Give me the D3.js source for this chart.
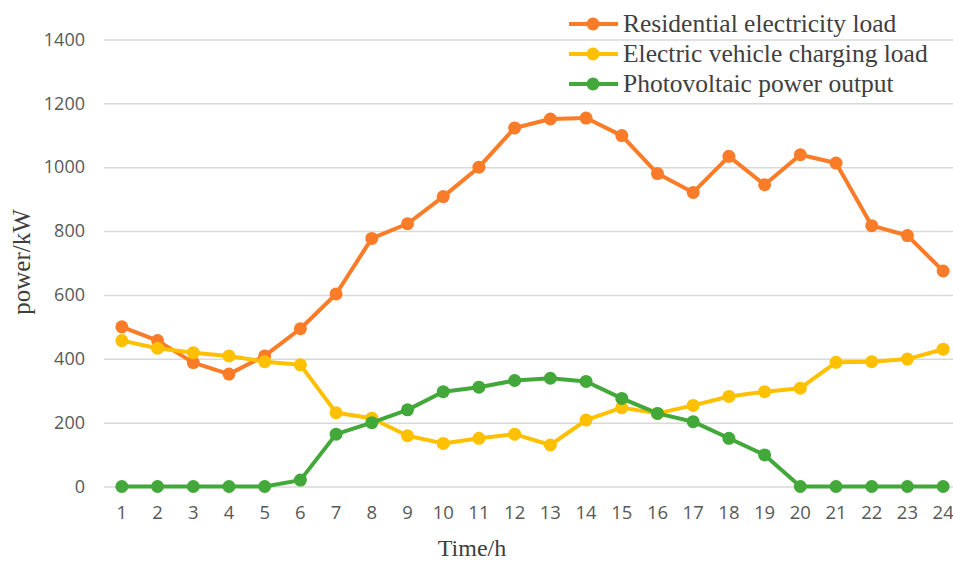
<!DOCTYPE html>
<html>
<head>
<meta charset="utf-8">
<script src="https://cdn.jsdelivr.net/npm/d3@7"></script>
<style>
  body { margin: 0; background: #fff; }
  svg { display: block; }
</style>
</head>
<body>
<div id="chart"></div>
<script>
// hours on the x axis
const hours = d3.range(1, 25);
const y_ticks = [0, 200, 400, 600, 800, 1000, 1200, 1400];

const series_names = ['Residential electricity load', 'Electric vehicle charging load', 'Photovoltaic power output'];
const series_colors = ['#fb7c28', '#ffc000', '#43a83a'];

const residential = [500, 457, 388, 352, 409, 494, 603, 777, 823, 908, 1000, 1123, 1151, 1154, 1099, 980, 921, 1034, 945, 1039, 1013, 817, 786, 675];
const ev_charging = [457, 433, 419, 409, 391, 381, 231, 214, 159, 135, 151, 164, 130, 208, 247, 229, 254, 282, 297, 308, 389, 391, 399, 430];
const pv_output = [0, 0, 0, 0, 0, 20, 164, 200, 240, 297, 311, 332, 339, 329, 276, 229, 203, 151, 99, 0, 0, 0, 0, 0];

const series_values = [residential, ev_charging, pv_output];

const width = 953, height = 561;
const margin = {top: 40, right: -8, bottom: 75, left: 104};
const line_width = 4;
const point_size = 6.5;
const serif = 'Liberation Serif, Times New Roman, serif';
const tick_font = 'Open Sans, sans-serif';

const svg = d3.select('#chart').append('svg')
  .attr('width', width)
  .attr('height', height);

const x = d3.scaleBand()
  .domain(hours)
  .range([margin.left, width - margin.right]);

const y = d3.scaleLinear()
  .domain([0, 1400])
  .range([height - margin.bottom + 0.5, margin.top - 0.5]);

// gridlines + y labels
const y_axis = svg.append('g')
  .attr('transform', `translate(${margin.left},0)`)
  .call(d3.axisLeft(y)
    .tickValues(y_ticks)
    .tickFormat(d3.format('d'))
    .tickSize(-(width - margin.right - margin.left))
    .tickPadding(19));

y_axis.select('.domain').remove();
y_axis.selectAll('.tick line')
  .attr('stroke', '#d9d9d9')
  .attr('stroke-width', 1.5);
y_axis.selectAll('.tick text')
  .attr('fill', '#595959')
  .attr('font-family', tick_font)
  .attr('font-size', 18);

// x labels
const x_axis = svg.append('g')
  .attr('transform', `translate(0,${y(0)})`)
  .call(d3.axisBottom(x).tickSize(0).tickPadding(19));

x_axis.select('.domain').remove();
x_axis.selectAll('.tick text')
  .attr('fill', '#595959')
  .attr('font-family', tick_font)
  .attr('font-size', 18.5);

// series lines and points
const line = d3.line()
  .x((d, i) => x(hours[i]) + x.bandwidth() / 2)
  .y(d => y(d));

series_values.forEach((values, s) => {
  const g = svg.append('g');
  g.append('path')
    .datum(values)
    .attr('d', line)
    .attr('fill', 'none')
    .attr('stroke', series_colors[s])
    .attr('stroke-width', line_width)
    .attr('stroke-linejoin', 'round');
  g.selectAll('circle')
    .data(values)
    .join('circle')
    .attr('cx', (d, i) => x(hours[i]) + x.bandwidth() / 2)
    .attr('cy', d => y(d))
    .attr('r', point_size)
    .attr('fill', series_colors[s]);
});

// legend
const legend = svg.append('g')
  .attr('transform', 'translate(569,24)');

const legend_rows = legend.selectAll('g')
  .data(series_names)
  .join('g')
  .attr('transform', (d, i) => `translate(0,${i * 30})`);

legend_rows.append('line')
  .attr('x1', 0).attr('x2', 49)
  .attr('stroke', (d, i) => series_colors[i])
  .attr('stroke-width', line_width);
legend_rows.append('circle')
  .attr('cx', 24)
  .attr('r', point_size)
  .attr('fill', (d, i) => series_colors[i]);
legend_rows.append('text')
  .attr('x', 54)
  .attr('dy', '0.33em')
  .attr('font-family', serif)
  .attr('font-size', 25.5)
  .attr('fill', '#404040')
  .text(d => d);

// axis titles
svg.append('text')
  .attr('transform', 'translate(30,262) rotate(-90)')
  .attr('text-anchor', 'middle')
  .attr('font-family', serif)
  .attr('font-size', 25)
  .attr('fill', '#404040')
  .text('power/kW');

svg.append('text')
  .attr('x', 472)
  .attr('y', 556)
  .attr('text-anchor', 'middle')
  .attr('font-family', serif)
  .attr('font-size', 24)
  .attr('fill', '#404040')
  .text('Time/h');
</script>
</body>
</html>
